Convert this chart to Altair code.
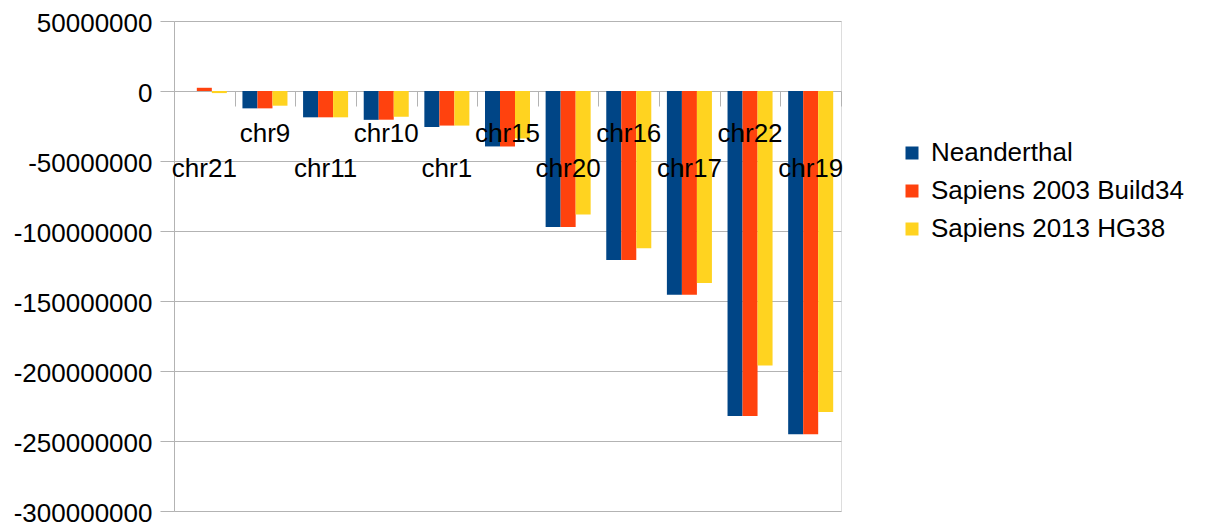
import altair as alt
import pandas as pd

categories = ["chr21", "chr9", "chr11", "chr10", "chr1", "chr15",
              "chr20", "chr16", "chr17", "chr22", "chr19"]
series = ["Neanderthal", "Sapiens 2003 Build34", "Sapiens 2013 HG38"]
neanderthal = [0, -12400000, -18800000, -20600000, -25700000, -39600000,
               -97200000, -120700000, -145600000, -232100000, -245200000]
sapiens2003 = [2300000, -12400000, -18800000, -20500000, -24700000, -39600000,
               -97200000, -120700000, -145600000, -232100000, -245200000]
sapiens2013 = [-1500000, -10500000, -18800000, -18400000, -24700000, -33900000,
               -88200000, -112400000, -137100000, -196100000, -229300000]
colors = ["#004586", "#ff420e", "#ffd320"]
y_ticks = [-300000000, -250000000, -200000000, -150000000, -100000000,
           -50000000, 0, 50000000]

rows = []
for s, vals in zip(series, [neanderthal, sapiens2003, sapiens2013]):
    for c, v in zip(categories, vals):
        rows.append({"chromosome": c, "series": s, "value": v})
df = pd.DataFrame(rows)
lab_df = pd.DataFrame({"chromosome": categories,
                       "row": [i % 2 for i in range(len(categories))]})

W, H = 667, 490
FONT = "Liberation Sans"
GRAY = "#b3b3b3"

x_enc = alt.X("chromosome:N", sort=categories,
              scale=alt.Scale(paddingInner=0, paddingOuter=0),
              axis=alt.Axis(labels=False, title=None, domain=False, grid=False,
                            ticks=True, tickBand="extent", tickColor=GRAY,
                            tickSize=15, offset=-(H * 300 / 350)))

y_enc = alt.Y("value:Q",
              scale=alt.Scale(domain=[-300000000, 50000000], nice=False),
              axis=alt.Axis(values=y_ticks, labelExpr="'' + datum.value",
                            title=None, grid=True, gridColor=GRAY,
                            domainColor=GRAY, tickColor=GRAY, tickSize=14,
                            labelPadding=8, labelFontSize=26, labelFont=FONT,
                            labelColor="black", labelOffset=2))

bars = alt.Chart(df).mark_bar().encode(
    x=x_enc,
    xOffset=alt.XOffset("series:N", sort=series,
                        scale=alt.Scale(paddingInner=0, paddingOuter=0.52)),
    y=y_enc,
    color=alt.Color("series:N", sort=series,
                    scale=alt.Scale(domain=series, range=colors),
                    legend=alt.Legend(title=None, orient="none", legendX=725,
                                      legendY=119, symbolType="square",
                                      symbolSize=169, symbolStrokeWidth=0,
                                      labelFontSize=26, labelFont=FONT,
                                      labelColor="black", labelOffset=6,
                                      labelLimit=0, rowPadding=12, padding=0)),
)

text_lo = alt.Chart(lab_df).transform_filter("datum.row == 0").mark_text(
    baseline="alphabetic", dy=86, fontSize=26, font=FONT, color="black"
).encode(x=x_enc, y=alt.datum(0), text="chromosome:N")

text_hi = alt.Chart(lab_df).transform_filter("datum.row == 1").mark_text(
    baseline="alphabetic", dy=51, fontSize=26, font=FONT, color="black"
).encode(x=x_enc, y=alt.datum(0), text="chromosome:N")

chart = alt.layer(bars, text_lo, text_hi).properties(
    width=W, height=H,
    autosize=alt.AutoSizeParams(type="none"),
    padding={"left": 166, "top": 13, "right": 360, "bottom": 15},
).configure_view(stroke=GRAY).configure(background="white")

chart.save("out.html", embed_options={"renderer": "svg", "actions": False})
